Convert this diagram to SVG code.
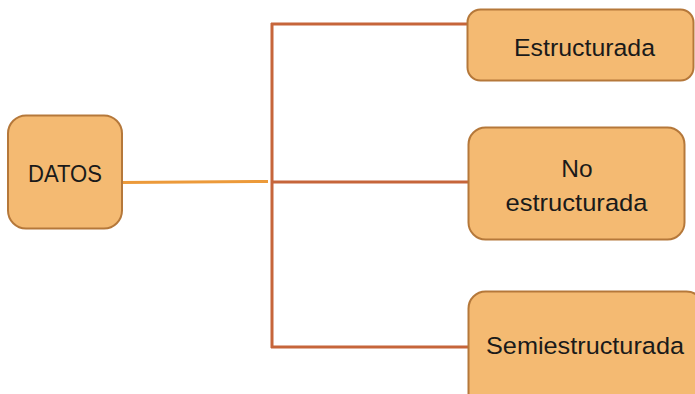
<svg xmlns="http://www.w3.org/2000/svg" width="695" height="394" viewBox="0 0 695 394">
<style>
.box{fill:#F4BA72;stroke:#B5783A;stroke-width:2}
.lbl{font-family:"Liberation Sans",Arial,sans-serif;font-size:24.5px;fill:#1a1a1a;text-anchor:middle}
.br{stroke:#C6653A;stroke-width:3;fill:none}
.or{stroke:#EC9A3A;stroke-width:3;fill:none}
</style>
<rect width="695" height="394" fill="#ffffff"/>
<g id="connectors">
<line class="or" x1="122" y1="182.5" x2="268" y2="181.5"/>
<line class="br" x1="272" y1="23" x2="272" y2="348"/>
<line class="br" x1="271" y1="24" x2="469" y2="24"/>
<line class="br" x1="272" y1="182" x2="469" y2="182"/>
<line class="br" x1="271" y1="347" x2="469" y2="347"/>
</g>
<g id="datos">
<rect class="box" x="8" y="115.5" width="114" height="113" rx="18"/>
<text class="lbl" x="65" y="181.5" textLength="74" lengthAdjust="spacingAndGlyphs">DATOS</text>
</g>
<g id="estructurada">
<rect class="box" x="467.5" y="9.5" width="226" height="71" rx="13"/>
<text class="lbl" x="584.5" y="56" textLength="141" lengthAdjust="spacingAndGlyphs">Estructurada</text>
</g>
<g id="no-estructurada">
<rect class="box" x="468.5" y="127.5" width="216" height="112" rx="17"/>
<text class="lbl" x="577" y="176.5">No</text>
<text class="lbl" x="576.5" y="210.5" textLength="142" lengthAdjust="spacingAndGlyphs">estructurada</text>
</g>
<g id="semiestructurada">
<rect class="box" x="468.5" y="291.5" width="235" height="120" rx="17"/>
<text class="lbl" x="585" y="354" textLength="198" lengthAdjust="spacingAndGlyphs">Semiestructurada</text>
</g>
</svg>
